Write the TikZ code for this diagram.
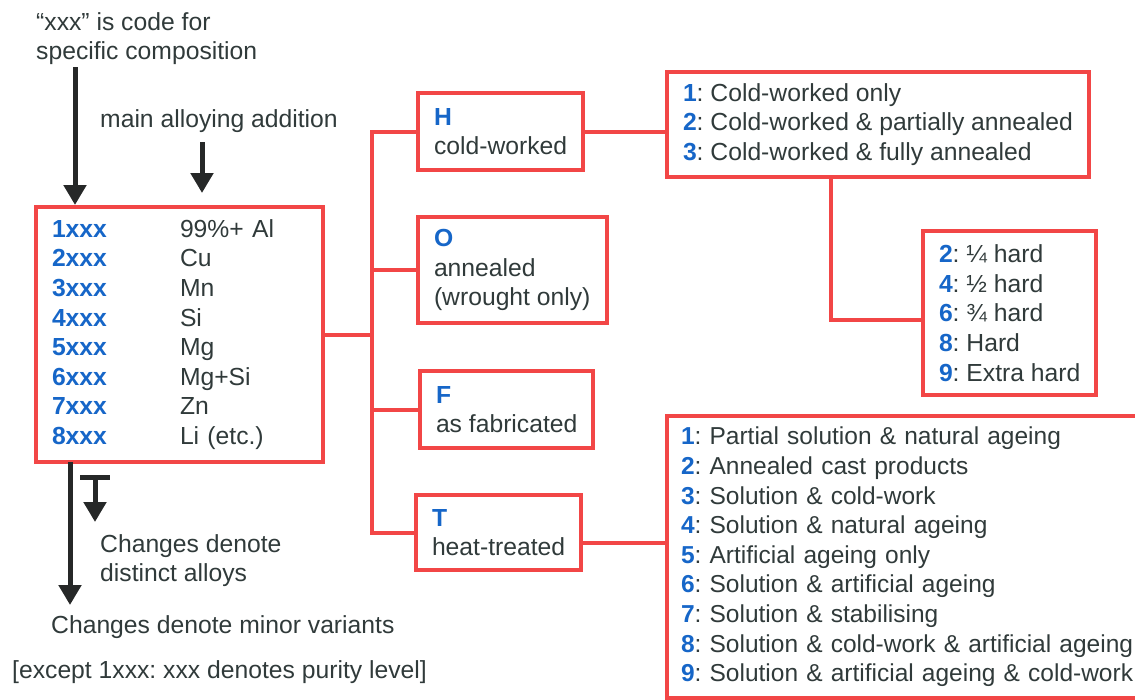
\documentclass[tikz,border=0pt]{standalone}
\usepackage{fontspec}
\setmainfont{Liberation Sans}
\usetikzlibrary{arrows.meta, positioning}

\definecolor{inkgrey}{RGB}{48,58,58}
\definecolor{codeblue}{RGB}{22,102,200}
\definecolor{boxred}{RGB}{242,70,70}
\definecolor{arrowblack}{RGB}{38,40,40}

\newcommand{\keycode}[1]{\textcolor{codeblue}{\bfseries #1}}

\begin{document}
\frenchspacing
\begin{tikzpicture}[
  x=1pt, y=-1pt,
  every node/.style = {font=\fontsize{24.7}{29.6}\selectfont\frenchspacing, text=inkgrey},
  box/.style = {
    draw=boxred,
    line width=4pt,
    anchor=north west,
    outer sep=0pt,
    inner xsep=16pt,
    inner ysep=0pt,
    align=left
  },
  note/.style = {
    anchor=north west,
    inner sep=0pt,
    align=left
  },
  link/.style = {
    draw=boxred,
    line width=4pt
  },
  arrow/.style = {
    -{Triangle[width=22pt,length=20pt]},
    arrowblack,
    line width=5pt
  }
]

\useasboundingbox (0,0) rectangle (1135,699);
\clip (0,0) rectangle (1135,699);

% series box
\node[box, minimum width=287pt, minimum height=255pt, text width=255pt] (alloys) at (36,207) {%
  \makebox[128pt][l]{\keycode{1xxx}}99\%+ Al\\
  \makebox[128pt][l]{\keycode{2xxx}}Cu\\
  \makebox[128pt][l]{\keycode{3xxx}}Mn\\
  \makebox[128pt][l]{\keycode{4xxx}}Si\\
  \makebox[128pt][l]{\keycode{5xxx}}Mg\\
  \makebox[128pt][l]{\keycode{6xxx}}Mg+Si\\
  \makebox[128pt][l]{\keycode{7xxx}}Zn\\
  \makebox[128pt][l]{\keycode{8xxx}}Li (etc.)
};

\node[note] (codenote) at (36,12) {“xxx” is code for\\specific composition};
\node[note] (alloyingnote) at (100,109) {main alloying addition};
\node[note] (distinct) at (100,534) {Changes denote\\distinct alloys};
\node[note] (minornote) at (51,615) {Changes denote minor variants};
\node[note] (purity) at (12,660) {[except 1xxx: xxx denotes purity level]};

% temper boxes
\node[box, minimum height=77pt] (Hbox) at (418,93) {\keycode{H}\\cold-worked};
\node[box, minimum height=106pt] (Obox) at (418,217) {\keycode{O}\\annealed\\(wrought only)};
\node[box, minimum height=77pt] (Fbox) at (420,371) {\keycode{F}\\as fabricated};
\node[box, minimum height=75pt] (Tbox) at (416,495) {\keycode{T}\\heat-treated};

% subdivisions
\node[box, minimum height=105pt] (Hdetail) at (667,72) {%
  \keycode{1}: Cold-worked only\\
  \keycode{2}: Cold-worked \& partially annealed\\
  \keycode{3}: Cold-worked \& fully annealed
};
\node[box, minimum height=164pt] (hard) at (923,231) {%
  \keycode{2}: ¼ hard\\
  \keycode{4}: ½ hard\\
  \keycode{6}: ¾ hard\\
  \keycode{8}: Hard\\
  \keycode{9}: Extra hard
};
\node[box, inner xsep=14pt, minimum width=500pt, minimum height=282pt, text width=472pt,
      font=\fontsize{24.5}{29.6}\selectfont\frenchspacing] (Tdetail) at (667,416) {%
  \keycode{1}: Partial solution \& natural ageing\\
  \keycode{2}: Annealed cast products\\
  \keycode{3}: Solution \& cold-work\\
  \keycode{4}: Solution \& natural ageing\\
  \keycode{5}: Artificial ageing only\\
  \keycode{6}: Solution \& artificial ageing\\
  \keycode{7}: Solution \& stabilising\\
  \keycode{8}: Solution \& cold-work \& artificial ageing\\
  \keycode{9}: Solution \& artificial ageing \& cold-work
};

% red links
\coordinate (trunk) at (372,334);
\draw[link] (alloys.east) -- (alloys.east -| trunk);
\draw[link] (Hbox.west) -| (trunk) |- (Tbox.west);
\draw[link] (Obox.west) -- (Obox.west -| trunk);
\draw[link] (Fbox.west) -- (Fbox.west -| trunk);
\draw[link] (Hbox.east) -- (Hbox.east -| Hdetail.west);
\draw[link] ([xshift=-47pt]Hdetail.south) |- ([yshift=-7pt]hard.west);
\draw[link] ([yshift=-10pt]Tbox.east) -- ([yshift=-10pt]Tbox.east -| Tdetail.west);

% black arrows
\coordinate (codein) at ([xshift=39pt]alloys.north west);
\coordinate (mainin) at ([xshift=166pt]alloys.north west);
\coordinate (minorout) at ([xshift=34pt]alloys.south west);
\coordinate (distinctout) at ([xshift=59pt,yshift=-15pt]alloys.south west);

\draw[arrow, shorten >=2pt] ([yshift=-2pt]codenote.south -| codein) -- (codein);
\draw[arrow] ([yshift=-10pt]alloyingnote.south -| mainin) -- ([yshift=14pt]mainin);
\draw[arrow] (minorout) -- ([yshift=10pt]minornote.north -| minorout);
\draw[arrow] (distinctout) -- ([yshift=12pt]distinct.north -| distinctout);
\draw[arrowblack, line width=5pt] ([xshift=-15pt]distinctout) -- ([xshift=15pt]distinctout);

\end{tikzpicture}
\end{document}
